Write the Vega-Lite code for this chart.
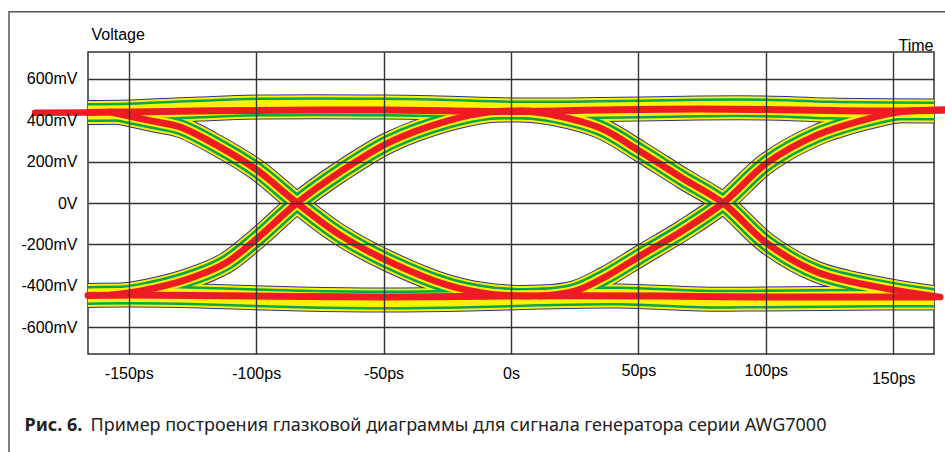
{
  "$schema": "https://vega.github.io/schema/vega-lite/v6.json",
  "autosize": "none",
  "width": 846,
  "height": 302,
  "padding": {"left": 88, "top": 52, "right": 11, "bottom": 98},
  "background": "white",
  "config": {
    "font": "Liberation Sans",
    "view": {"stroke": "#333333", "strokeWidth": 1.5}
  },
  "datasets": {
    "band": [
      {"s": "top", "k": "rail", "t": -169.2, "v": 437.6},
      {"s": "top", "k": "rail", "t": -149.5, "v": 440},
      {"s": "top", "k": "rail", "t": -122.1, "v": 454.5},
      {"s": "top", "k": "rail", "t": -98.5, "v": 464},
      {"s": "top", "k": "rail", "t": -49.5, "v": 464},
      {"s": "top", "k": "rail", "t": -27.9, "v": 459},
      {"s": "top", "k": "rail", "t": -0.4, "v": 449.7},
      {"s": "top", "k": "rail", "t": 34.9, "v": 452},
      {"s": "top", "k": "rail", "t": 74.2, "v": 459.4},
      {"s": "top", "k": "rail", "t": 99.7, "v": 459.4},
      {"s": "top", "k": "rail", "t": 125.2, "v": 449.7},
      {"s": "top", "k": "rail", "t": 170.3, "v": 444.9},
      {"s": "bot", "k": "rail", "t": -169.2, "v": -447.3},
      {"s": "bot", "k": "rail", "t": -149.5, "v": -444.9},
      {"s": "bot", "k": "rail", "t": -122.1, "v": -449.7},
      {"s": "bot", "k": "rail", "t": -82.8, "v": -464.2},
      {"s": "bot", "k": "rail", "t": -49.5, "v": -469},
      {"s": "bot", "k": "rail", "t": -16.1, "v": -464.2},
      {"s": "bot", "k": "rail", "t": 11.4, "v": -454.5},
      {"s": "bot", "k": "rail", "t": 42.8, "v": -449.7},
      {"s": "bot", "k": "rail", "t": 74.2, "v": -464.2},
      {"s": "bot", "k": "rail", "t": 99.7, "v": -464.2},
      {"s": "bot", "k": "rail", "t": 144.8, "v": -459.4},
      {"s": "bot", "k": "rail", "t": 170.3, "v": -459.4},
      {"s": "fall1", "k": "edge", "t": -157.4, "v": 440},
      {"s": "fall1", "k": "edge", "t": -140.9, "v": 396.5},
      {"s": "fall1", "k": "edge", "t": -129.9, "v": 367.5},
      {"s": "fall1", "k": "edge", "t": -115, "v": 275.6},
      {"s": "fall1", "k": "edge", "t": -99.7, "v": 159.6},
      {"s": "fall1", "k": "edge", "t": -84, "v": 0},
      {"s": "fall1", "k": "edge", "t": -67.1, "v": -154.7},
      {"s": "fall1", "k": "edge", "t": -47.5, "v": -285.3},
      {"s": "fall1", "k": "edge", "t": -25.1, "v": -396.5},
      {"s": "fall1", "k": "edge", "t": -8.2, "v": -440},
      {"s": "fall1", "k": "edge", "t": 7.5, "v": -449.7},
      {"s": "rise1", "k": "edge", "t": -157.4, "v": -444.9},
      {"s": "rise1", "k": "edge", "t": -145.6, "v": -425.5},
      {"s": "rise1", "k": "edge", "t": -127.9, "v": -372},
      {"s": "rise1", "k": "edge", "t": -112.2, "v": -292},
      {"s": "rise1", "k": "edge", "t": -99.7, "v": -172},
      {"s": "rise1", "k": "edge", "t": -84, "v": 0},
      {"s": "rise1", "k": "edge", "t": -67.1, "v": 149.9},
      {"s": "rise1", "k": "edge", "t": -47.5, "v": 295},
      {"s": "rise1", "k": "edge", "t": -25.1, "v": 396.5},
      {"s": "rise1", "k": "edge", "t": -8.2, "v": 440},
      {"s": "rise1", "k": "edge", "t": 7.5, "v": 444.9},
      {"s": "fall2", "k": "edge", "t": 3.5, "v": 444.9},
      {"s": "fall2", "k": "edge", "t": 16.5, "v": 425.5},
      {"s": "fall2", "k": "edge", "t": 34.9, "v": 362.7},
      {"s": "fall2", "k": "edge", "t": 50.6, "v": 250},
      {"s": "fall2", "k": "edge", "t": 67.5, "v": 118},
      {"s": "fall2", "k": "edge", "t": 83.2, "v": 0},
      {"s": "fall2", "k": "edge", "t": 100.5, "v": -196},
      {"s": "fall2", "k": "edge", "t": 120.1, "v": -333.7},
      {"s": "fall2", "k": "edge", "t": 146, "v": -411},
      {"s": "fall2", "k": "edge", "t": 168.4, "v": -454.5},
      {"s": "rise2", "k": "edge", "t": 11.4, "v": -449.7},
      {"s": "rise2", "k": "edge", "t": 25.1, "v": -425.5},
      {"s": "rise2", "k": "edge", "t": 36.9, "v": -357.8},
      {"s": "rise2", "k": "edge", "t": 50.6, "v": -256.3},
      {"s": "rise2", "k": "edge", "t": 67.5, "v": -132},
      {"s": "rise2", "k": "edge", "t": 83.2, "v": 0},
      {"s": "rise2", "k": "edge", "t": 100.5, "v": 194},
      {"s": "rise2", "k": "edge", "t": 120.1, "v": 328.8},
      {"s": "rise2", "k": "edge", "t": 139.7, "v": 406},
      {"s": "rise2", "k": "edge", "t": 152.7, "v": 440},
      {"s": "rise2", "k": "edge", "t": 170.3, "v": 449.7}
    ],
    "core": [
      {"s": "lead", "k": "lead", "t": -186.8, "v": 436},
      {"s": "lead", "k": "lead", "t": -166, "v": 438},
      {"s": "topc", "k": "rail", "t": -166, "v": 438},
      {"s": "topc", "k": "rail", "t": -149.5, "v": 440},
      {"s": "topc", "k": "rail", "t": -102.4, "v": 447.3},
      {"s": "topc", "k": "rail", "t": -49.5, "v": 449.7},
      {"s": "topc", "k": "rail", "t": -0.4, "v": 442.5},
      {"s": "topc", "k": "rail", "t": 34.9, "v": 449.7},
      {"s": "topc", "k": "rail", "t": 74.2, "v": 454.5},
      {"s": "topc", "k": "rail", "t": 113.4, "v": 449.7},
      {"s": "topc", "k": "rail", "t": 149.9, "v": 444.9},
      {"s": "topc", "k": "rail", "t": 170.3, "v": 449.7},
      {"s": "botc", "k": "rail", "t": -166, "v": -447.3},
      {"s": "botc", "k": "rail", "t": -149.5, "v": -444.9},
      {"s": "botc", "k": "rail", "t": -49.5, "v": -454.5},
      {"s": "botc", "k": "rail", "t": -0.4, "v": -449.7},
      {"s": "botc", "k": "rail", "t": 58.5, "v": -449.7},
      {"s": "botc", "k": "rail", "t": 99.7, "v": -454.5},
      {"s": "botc", "k": "rail", "t": 144.8, "v": -454.5},
      {"s": "botc", "k": "rail", "t": 166.4, "v": -454.5},
      {"s": "fall1", "k": "edge", "t": -157.4, "v": 440},
      {"s": "fall1", "k": "edge", "t": -140.9, "v": 396.5},
      {"s": "fall1", "k": "edge", "t": -129.9, "v": 367.5},
      {"s": "fall1", "k": "edge", "t": -115, "v": 275.6},
      {"s": "fall1", "k": "edge", "t": -99.7, "v": 159.6},
      {"s": "fall1", "k": "edge", "t": -84, "v": 0},
      {"s": "fall1", "k": "edge", "t": -67.1, "v": -154.7},
      {"s": "fall1", "k": "edge", "t": -47.5, "v": -285.3},
      {"s": "fall1", "k": "edge", "t": -25.1, "v": -396.5},
      {"s": "fall1", "k": "edge", "t": -8.2, "v": -440},
      {"s": "fall1", "k": "edge", "t": 7.5, "v": -449.7},
      {"s": "rise1", "k": "edge", "t": -157.4, "v": -444.9},
      {"s": "rise1", "k": "edge", "t": -145.6, "v": -425.5},
      {"s": "rise1", "k": "edge", "t": -127.9, "v": -372},
      {"s": "rise1", "k": "edge", "t": -112.2, "v": -292},
      {"s": "rise1", "k": "edge", "t": -99.7, "v": -172},
      {"s": "rise1", "k": "edge", "t": -84, "v": 0},
      {"s": "rise1", "k": "edge", "t": -67.1, "v": 149.9},
      {"s": "rise1", "k": "edge", "t": -47.5, "v": 295},
      {"s": "rise1", "k": "edge", "t": -25.1, "v": 396.5},
      {"s": "rise1", "k": "edge", "t": -8.2, "v": 440},
      {"s": "rise1", "k": "edge", "t": 7.5, "v": 444.9},
      {"s": "fall2", "k": "edge", "t": 3.5, "v": 444.9},
      {"s": "fall2", "k": "edge", "t": 16.5, "v": 425.5},
      {"s": "fall2", "k": "edge", "t": 34.9, "v": 362.7},
      {"s": "fall2", "k": "edge", "t": 50.6, "v": 250},
      {"s": "fall2", "k": "edge", "t": 67.5, "v": 118},
      {"s": "fall2", "k": "edge", "t": 83.2, "v": 0},
      {"s": "fall2", "k": "edge", "t": 100.5, "v": -196},
      {"s": "fall2", "k": "edge", "t": 120.1, "v": -333.7},
      {"s": "fall2", "k": "edge", "t": 146, "v": -411},
      {"s": "fall2", "k": "edge", "t": 168.4, "v": -454.5},
      {"s": "rise2", "k": "edge", "t": 11.4, "v": -449.7},
      {"s": "rise2", "k": "edge", "t": 25.1, "v": -425.5},
      {"s": "rise2", "k": "edge", "t": 36.9, "v": -357.8},
      {"s": "rise2", "k": "edge", "t": 50.6, "v": -256.3},
      {"s": "rise2", "k": "edge", "t": 67.5, "v": -132},
      {"s": "rise2", "k": "edge", "t": 83.2, "v": 0},
      {"s": "rise2", "k": "edge", "t": 100.5, "v": 194},
      {"s": "rise2", "k": "edge", "t": 120.1, "v": 328.8},
      {"s": "rise2", "k": "edge", "t": 139.7, "v": 406},
      {"s": "rise2", "k": "edge", "t": 152.7, "v": 440},
      {"s": "rise2", "k": "edge", "t": 170.3, "v": 449.7}
    ]
  },
  "resolve": {
    "scale": {"strokeWidth": "independent"},
    "axis": {"x": "independent", "y": "independent"}
  },
  "layer": [
    {
      "data": {"values": [{}]},
      "mark": {"type": "rect", "filled": false, "stroke": "#555555", "strokeWidth": 1.5, "clip": false},
      "encoding": {
        "x": {"datum": -197.0, "type": "quantitative", "scale": {"domain": [-166, 166], "nice": false, "zero": false}, "axis": null},
        "x2": {"datum": 185},
        "y": {"datum": 925, "type": "quantitative", "scale": {"domain": [-730, 730], "nice": false, "zero": false}, "axis": null},
        "y2": {"datum": -1230}
      }
    },
    {
      "data": {"name": "band"},
      "mark": {"type": "line", "interpolate": "catmull-rom", "clip": true, "strokeCap": "round", "strokeJoin": "round", "color": "#2e3192"},
      "encoding": {
        "x": {
          "field": "t", "type": "quantitative",
          "scale": {"domain": [-166, 166], "nice": false, "zero": false},
          "axis": {
            "orient": "bottom",
            "values": [-150, -100, -50, 0, 50, 100, 150],
            "labelExpr": "datum.value == 0 ? '0s' : datum.value + 'ps'",
            "labelFont": "Liberation Sans", "labelFontSize": 16, "labelColor": "#000000",
            "labelPadding": 24,
            "labelBaseline": {"condition": [{"test": "datum.value == 150", "value": "middle"}, {"test": "datum.value == 50 || datum.value == 100", "value": "bottom"}], "value": "alphabetic"},
            "labelFlush": false, "labelOverlap": false,
            "ticks": false, "tickSize": 0, "domain": false,
            "grid": true, "gridColor": "#333333", "gridWidth": 1.4,
            "zindex": 1,
            "title": "Пример построения глазковой диаграммы для сигнала генератора серии AWG7000",
            "titleFont": "Noto Sans", "titleFontSize": 18, "titleFontWeight": "normal", "titleColor": "#222222",
            "titleX": 2, "titleY": 76, "titleAlign": "left", "titleBaseline": "alphabetic"
          }
        },
        "y": {
          "field": "v", "type": "quantitative",
          "scale": {"domain": [-730, 730], "nice": false, "zero": false},
          "axis": {
            "orient": "left",
            "values": [-600, -400, -200, 0, 200, 400, 600],
            "labelExpr": "datum.value == 0 ? '0V' : datum.value + 'mV'",
            "labelFont": "Liberation Sans", "labelFontSize": 16, "labelColor": "#000000",
            "labelPadding": 11, "labelBaseline": "middle",
            "ticks": false, "tickSize": 0, "domain": false,
            "grid": true, "gridColor": "#333333", "gridWidth": 1.4,
            "gridOpacity": {"condition": {"test": "abs(datum.value) == 400", "value": 0}, "value": 1},
            "zindex": 1,
            "title": "Voltage", "titleAngle": 0, "titleX": 3, "titleY": -13,
            "titleAlign": "left", "titleBaseline": "alphabetic",
            "titleFont": "Liberation Sans", "titleFontSize": 16, "titleFontWeight": "normal", "titleColor": "#000000"
          }
        },
        "detail": {"field": "s"},
        "strokeWidth": {"field": "k", "type": "ordinal", "scale": {"domain": ["rail", "edge"], "range": [25, 22]}, "legend": null}
      }
    },
    {
      "data": {"name": "band"},
      "mark": {"type": "line", "interpolate": "catmull-rom", "clip": true, "strokeCap": "round", "strokeJoin": "round", "color": "#fff200"},
      "encoding": {
        "x": {"field": "t", "type": "quantitative", "axis": null},
        "y": {"field": "v", "type": "quantitative", "axis": null},
        "detail": {"field": "s"},
        "strokeWidth": {"field": "k", "type": "ordinal", "scale": {"domain": ["rail", "edge"], "range": [23, 20]}, "legend": null}
      }
    },
    {
      "data": {"name": "band"},
      "mark": {"type": "line", "interpolate": "catmull-rom", "clip": true, "strokeCap": "round", "strokeJoin": "round", "color": "#00a651"},
      "encoding": {
        "x": {"field": "t", "type": "quantitative", "axis": null},
        "y": {"field": "v", "type": "quantitative", "axis": null},
        "detail": {"field": "s"},
        "strokeWidth": {"field": "k", "type": "ordinal", "scale": {"domain": ["rail", "edge"], "range": [19, 16]}, "legend": null}
      }
    },
    {
      "data": {"name": "band"},
      "mark": {"type": "line", "interpolate": "catmull-rom", "clip": true, "strokeCap": "round", "strokeJoin": "round", "color": "#fff200"},
      "encoding": {
        "x": {"field": "t", "type": "quantitative", "axis": null},
        "y": {"field": "v", "type": "quantitative", "axis": null},
        "detail": {"field": "s"},
        "strokeWidth": {"field": "k", "type": "ordinal", "scale": {"domain": ["rail", "edge"], "range": [14, 11]}, "legend": null}
      }
    },
    {
      "data": {"name": "core"},
      "mark": {"type": "line", "interpolate": "catmull-rom", "clip": false, "strokeCap": "round", "strokeJoin": "round", "color": "#ed1c24"},
      "encoding": {
        "x": {
          "field": "t", "type": "quantitative",
          "axis": {
            "orient": "top", "labels": false, "ticks": false, "tickSize": 0, "domain": false, "grid": false,
            "title": "Time", "titleX": 845, "titleY": -2, "titleAlign": "right", "titleBaseline": "alphabetic",
            "titleFont": "Liberation Sans", "titleFontSize": 16, "titleFontWeight": "normal", "titleColor": "#000000"
          }
        },
        "y": {
          "field": "v", "type": "quantitative",
          "axis": {
            "orient": "right", "labels": false, "ticks": false, "tickSize": 0, "domain": false, "grid": false,
            "title": "Рис. 6.", "titleAngle": 0, "titleX": -910, "titleY": 378, "titleAlign": "left", "titleBaseline": "alphabetic",
            "titleFont": "Noto Sans", "titleFontSize": 18, "titleFontWeight": "bold", "titleColor": "#222222"
          }
        },
        "detail": {"field": "s"},
        "strokeWidth": {"field": "k", "type": "ordinal", "scale": {"domain": ["rail", "edge", "lead"], "range": [7, 6.5, 4]}, "legend": null}
      }
    }
  ]
}
